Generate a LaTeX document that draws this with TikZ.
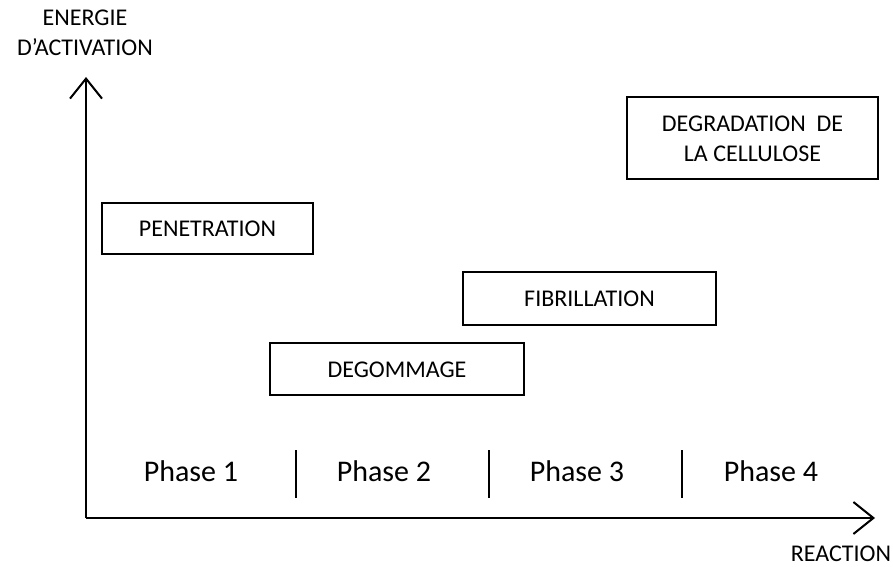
\documentclass[tikz,border=0pt]{standalone}
\usepackage{fontspec}
\setmainfont{Carlito}
\usetikzlibrary{arrows.meta}
\begin{document}
\begin{tikzpicture}[x=0.75pt,y=-0.75pt,
  lbl/.style={font=\fontsize{18}{22.5}\selectfont,inner sep=0pt},
  phase/.style={font=\fontsize{22.5}{27}\selectfont,inner sep=0pt},
  frame/.style={line width=1.5pt},
  axis/.style={line width=1.5pt,-{Straight Barb[length=15pt,width=24pt,line width=1.5pt]}},
  sep/.style={line width=1.5pt}]
\useasboundingbox (0,0) rectangle (893,567);
% axes
\coordinate (o) at (86,518);
\coordinate (ytip) at (86,77);
\coordinate (xtip) at (875,518);
\draw[axis] (o) -- (ytip);
\draw[axis] (o) -- (xtip);
\node[lbl,align=center] (ylab) at (85,33) {ENERGIE\\D’ACTIVATION};
\node[lbl] (xlab) at (841,554) {REACTION};
% boxes
\draw[frame] (102,203) rectangle (313,254);
\node[lbl] (pen) at (207.5,229) {PENETRATION};
\draw[frame] (627,97) rectangle (878,179);
\node[lbl,align=center] (deg) at (752.5,139) {DEGRADATION\ \ DE\\LA CELLULOSE};
\draw[frame] (463,272) rectangle (716,325);
\node[lbl] (fib) at (589.5,299) {FIBRILLATION};
\draw[frame] (270,343) rectangle (524,395);
\node[lbl] (dgm) at (397,370) {DEGOMMAGE};
% phases
\node[phase] (p1) at (191,471) {Phase 1};
\node[phase] (p2) at (384,471) {Phase 2};
\node[phase] (p3) at (577,471) {Phase 3};
\node[phase] (p4) at (771,471) {Phase 4};
\coordinate (s1a) at (296,450); \coordinate (s1b) at (296,498);
\coordinate (s2a) at (489,450); \coordinate (s2b) at (489,498);
\coordinate (s3a) at (682,450); \coordinate (s3b) at (682,498);
\draw[sep] (s1a) -- (s1b);
\draw[sep] (s2a) -- (s2b);
\draw[sep] (s3a) -- (s3b);
\end{tikzpicture}
\end{document}
